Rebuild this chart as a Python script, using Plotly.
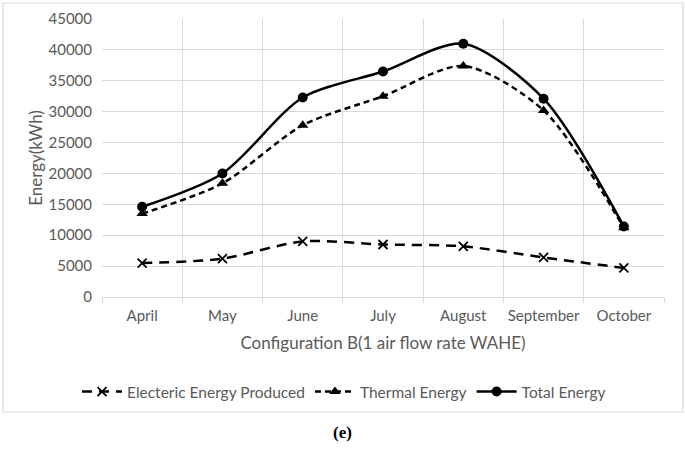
import plotly.graph_objects as go

months = ["April", "May", "June", "July", "August", "September", "October"]
electric = [5500, 6200, 9000, 8500, 8200, 6400, 4700]
thermal = [13500, 18400, 27800, 32500, 37400, 30200, 11200]
total = [14600, 20000, 32300, 36500, 41000, 32100, 11400]
y_ticks = [0, 5000, 10000, 15000, 20000, 25000, 30000, 35000, 40000, 45000]

FONT = "Lato, Open Sans, sans-serif"
GRAY = "#595959"
GRID = "#d9d9d9"

fig = go.Figure()
fig.add_trace(go.Scatter(
    x=months, y=electric, name="Electeric Energy Produced", mode="lines+markers",
    line=dict(color="black", width=2.5, dash="10px,7px", shape="spline", smoothing=0.8),
    marker=dict(symbol="x-thin", size=9, line=dict(color="black", width=1.8), color="black"),
))
fig.add_trace(go.Scatter(
    x=months, y=thermal, name="Thermal Energy", mode="lines+markers",
    line=dict(color="black", width=2.5, dash="6px,4px", shape="spline", smoothing=0.8),
    marker=dict(symbol="triangle-up", size=10, color="black"),
))
fig.add_trace(go.Scatter(
    x=months, y=total, name="Total Energy", mode="lines+markers",
    line=dict(color="black", width=2.5, shape="spline", smoothing=0.8),
    marker=dict(symbol="circle", size=10, color="black"),
))

W, H = 685, 450
L, T = 102, 19
R = W - 664
B = H - 297
pw, ph = W - L - R, H - T - B

def px_x(x):
    return (x - L) / pw

def px_y(y):
    return (H - B - y) / ph

fig.update_layout(
    width=W, height=H,
    margin=dict(l=L, r=R, t=T, b=B, autoexpand=False),
    paper_bgcolor="white", plot_bgcolor="white",
    font=dict(family=FONT, size=15, color=GRAY),
    showlegend=True,
    legend=dict(orientation="h", x=px_x(344), xanchor="center", y=px_y(392), yanchor="middle",
                font=dict(family=FONT, size=15.5, color=GRAY), itemwidth=40,
                bgcolor="rgba(0,0,0,0)"),
    xaxis=dict(
        type="category", tickson="boundaries", showgrid=True, gridcolor=GRID, gridwidth=1,
        showline=True, linecolor=GRID, linewidth=1, ticks="outside", ticklen=5, tickcolor=GRID,
        tickfont=dict(family=FONT, size=15, color=GRAY), automargin=False, tickangle=0,
        ticklabelstandoff=5,
        title=dict(text="Configuration B(1 air flow rate WAHE)", font=dict(family=FONT, size=17, color=GRAY), standoff=14),
        range=[-0.5, 6.5], zeroline=False,
    ),
    yaxis=dict(
        range=[0, 45000], tickvals=y_ticks, ticktext=[str(v) for v in y_ticks],
        showgrid=True, gridcolor=GRID, gridwidth=1, zeroline=False, showline=False,
        tickfont=dict(family=FONT, size=15, color=GRAY), ticks="", ticklen=0, automargin=False,
        ticklabelstandoff=9,
        title=dict(text="Energy(kWh)", font=dict(family=FONT, size=17, color=GRAY), standoff=1),
    ),
    shapes=[dict(type="rect", xref="paper", yref="paper",
                 x0=px_x(3), x1=px_x(683), y0=px_y(412), y1=px_y(3),
                 line=dict(color=GRID, width=1.2), fillcolor="rgba(0,0,0,0)", layer="below")],
    annotations=[dict(text="<b>(e)</b>", xref="paper", yref="paper", x=px_x(342), y=px_y(432),
                      showarrow=False, xanchor="center", yanchor="middle",
                      font=dict(family="Liberation Serif, Times New Roman, serif", size=17, color="black"))],
)

fig.write_html("out.html", config={"displayModeBar": False},
               post_script="document.body.style.margin='0';")
